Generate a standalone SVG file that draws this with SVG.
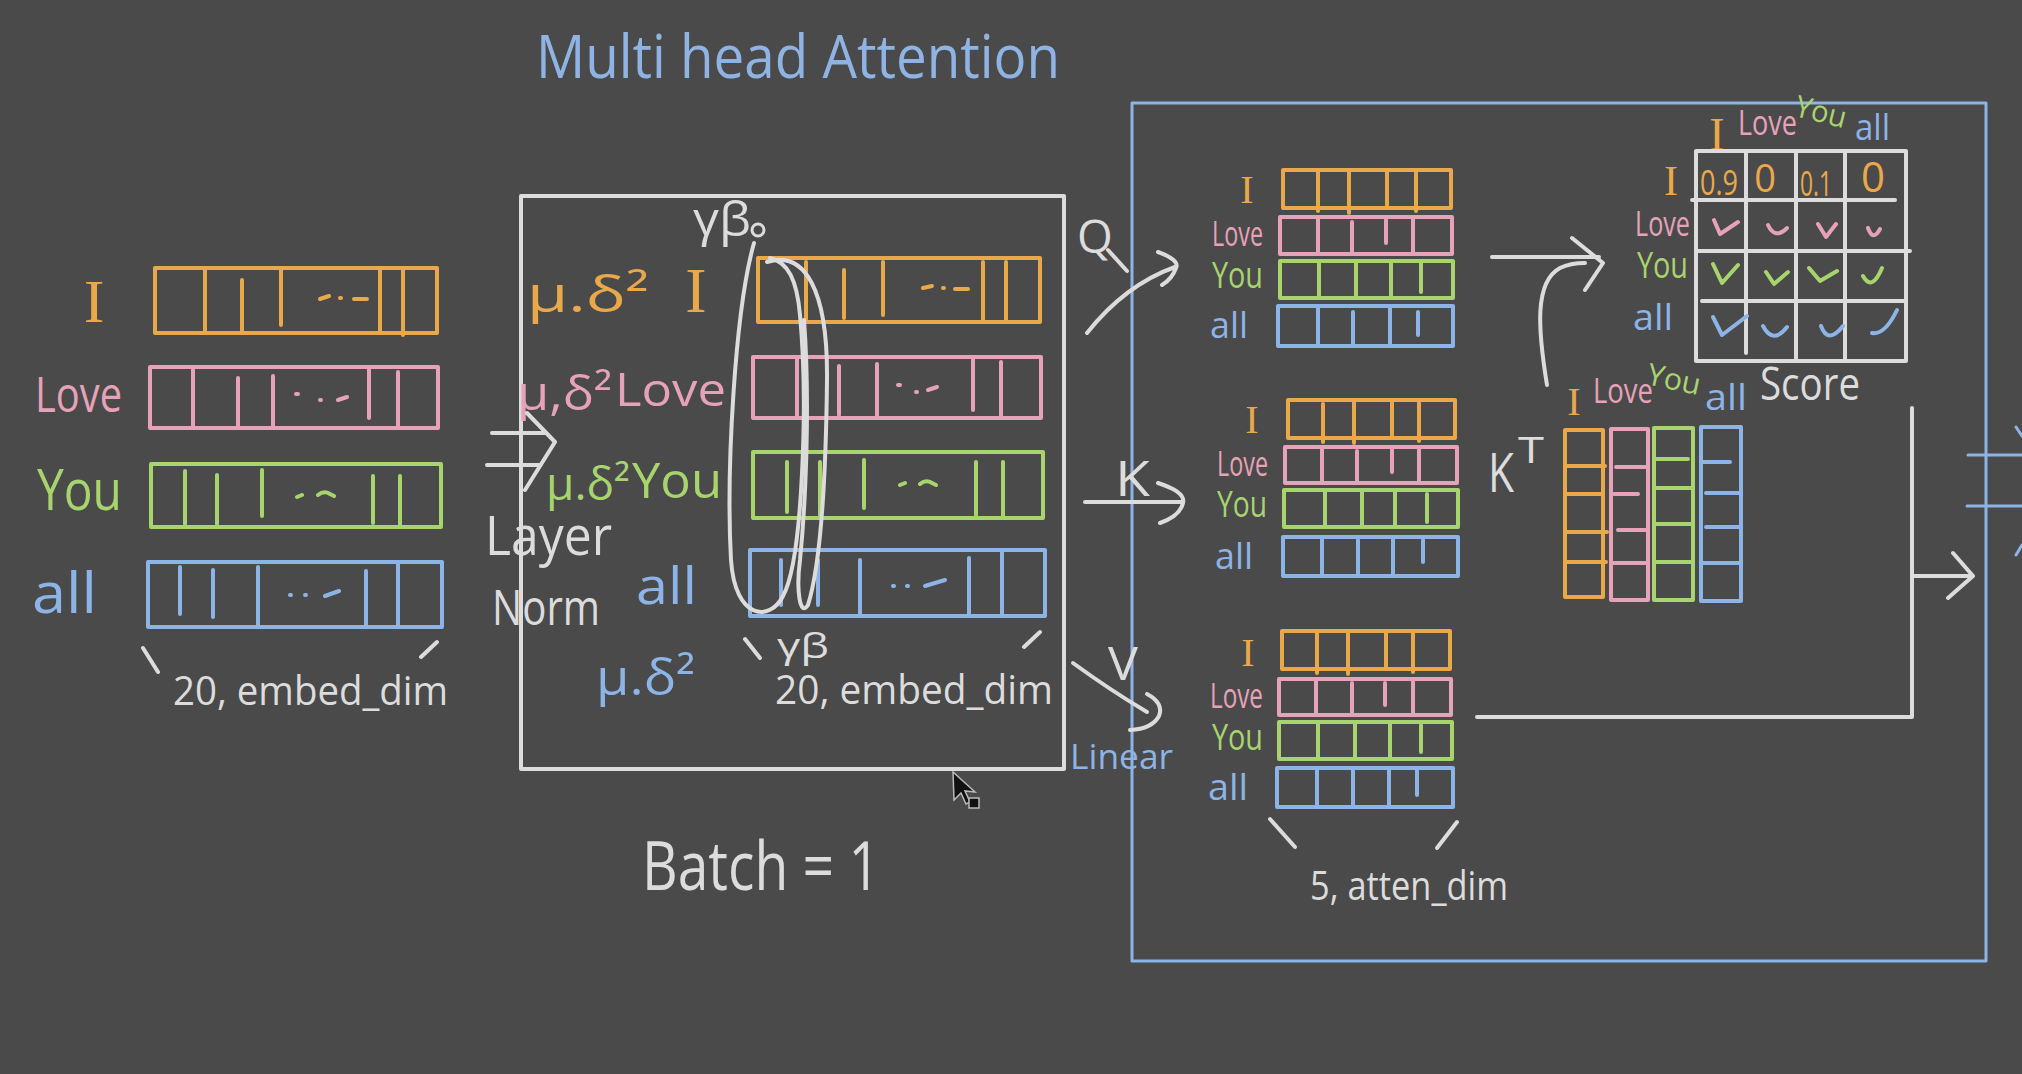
<svg xmlns="http://www.w3.org/2000/svg" width="2022" height="1074" viewBox="0 0 2022 1074">
<style>
.box{fill:none;stroke-width:4;stroke-linejoin:round}
.ln{fill:none;stroke-width:4;stroke-linecap:round;stroke-linejoin:round}
.o{stroke:#e9a94b}.p{stroke:#e6a2b8}.g{stroke:#a8d46e}.b{stroke:#8db4e6}.w{stroke:#dcdcdc}
.to{fill:#e9a94b}.tp{fill:#e6a2b8}.tg{fill:#a8d46e}.tb{fill:#8db4e6}.tw{fill:#dcdcdc}
text{font-family:"Open Sans","Liberation Sans",sans-serif}
.ser{font-family:"Liberation Serif",serif}
</style>
<rect width="2022" height="1074" fill="#4a4a4a"/>
<text x="536" y="78" font-size="60" fill="#8fb3e3" textLength="524" lengthAdjust="spacingAndGlyphs">Multi head Attention</text>

<g id="input-embeddings">
  <text class="ser to" x="94" y="322" font-size="62" text-anchor="middle">I</text>
  <text class="tp" x="35" y="412" font-size="50" textLength="87" lengthAdjust="spacingAndGlyphs">Love</text>
  <text class="tg" x="37" y="510" font-size="56" textLength="85" lengthAdjust="spacingAndGlyphs">You</text>
  <text class="tb" x="32" y="613" font-size="56" textLength="65" lengthAdjust="spacingAndGlyphs">all</text>
  <rect class="box o" x="155" y="268" width="282" height="65"/>
  <path class="ln o" d="M205,268V333M242,280V333M281,268V325M380,268V333M403,270V335M320,299l9,-3M340,298h1M354,299h13"/>
  <rect class="box p" x="150" y="367" width="288" height="61"/>
  <path class="ln p" d="M193,367V428M238,378V426M273,376V428M369,367V418M398,372V426M296,394h2M320,400h1M338,400l9,-3"/>
  <rect class="box g" x="151" y="464" width="290" height="63"/>
  <path class="ln g" d="M185,471V524M217,475V524M262,470V516M373,476V523M400,476V527M297,497l5,-2M318,495q6,-5 12,-1l4,2"/>
  <rect class="box b" x="148" y="562" width="294" height="65"/>
  <path class="ln b" d="M180,567V614M213,570V617M258,567V627M366,571V627M398,562V627M290,595h1M305,595h1M325,596l14,-5"/>
  <path class="ln w" d="M143,648L158,672M421,657L437,642"/>
  <text class="tw" x="173" y="705" font-size="40" textLength="275" lengthAdjust="spacingAndGlyphs">20, embed_dim</text>
</g>

<g id="layer-norm">
  <rect class="box w" x="521" y="196" width="543" height="573"/>
  <text class="tw" x="485" y="555" font-size="54" textLength="127" lengthAdjust="spacingAndGlyphs">Layer</text>
  <text class="tw" x="492" y="625" font-size="50" textLength="108" lengthAdjust="spacingAndGlyphs">Norm</text>
  <text class="tw" x="693" y="236" font-size="48" textLength="58" lengthAdjust="spacingAndGlyphs">γβ</text>
  <circle cx="758" cy="230" r="6" fill="none" stroke="#dcdcdc" stroke-width="3"/>
  <text class="to" x="527" y="312" font-size="50" textLength="122" lengthAdjust="spacingAndGlyphs">μ.δ²</text>
  <text class="ser to" x="696" y="312" font-size="64" text-anchor="middle">I</text>
  <text class="tp" x="517" y="410" font-size="48" textLength="95" lengthAdjust="spacingAndGlyphs">μ,δ²</text>
  <text class="tp" x="615" y="406" font-size="46" textLength="111" lengthAdjust="spacingAndGlyphs">Love</text>
  <text class="tg" x="546" y="500" font-size="46" textLength="84" lengthAdjust="spacingAndGlyphs">μ.δ²</text>
  <text class="tg" x="632" y="498" font-size="50" textLength="90" lengthAdjust="spacingAndGlyphs">You</text>
  <text class="tb" x="636" y="604" font-size="52" textLength="61" lengthAdjust="spacingAndGlyphs">all</text>
  <text class="tb" x="596" y="695" font-size="50" textLength="99" lengthAdjust="spacingAndGlyphs">μ.δ²</text>
  <rect class="box o" x="758" y="258" width="282" height="64"/>
  <path class="ln o" d="M806,262V322M844,270V318M883,262V315M983,262V322M1006,262V322M923,288l9,-2M943,288h1M955,289h13"/>
  <rect class="box p" x="753" y="357" width="288" height="61"/>
  <path class="ln p" d="M797,357V418M839,366V415M877,364V418M973,357V410M1001,362V418M898,385h2M916,392h1M928,390l9,-3"/>
  <rect class="box g" x="753" y="452" width="290" height="66"/>
  <path class="ln g" d="M787,462V512M820,462V518M864,460V508M976,462V515M1003,462V518M900,485l5,-2M920,484q6,-5 12,-1l4,2"/>
  <rect class="box b" x="750" y="550" width="295" height="66"/>
  <path class="ln b" d="M781,560V605M818,560V605M860,560V616M969,558V616M1002,550V616M893,586h1M907,586h1M925,586l20,-6"/>
  <path class="ln w" d="M754,243C735,310 726,470 731,560C735,620 770,622 783,596C803,560 808,400 800,315C797,280 788,262 770,258"/>
  <path class="ln w" d="M767,262C805,250 828,290 827,380C826,470 822,560 808,605C800,618 796,590 800,560C806,500 810,400 804,320"/>
  <path class="ln w" d="M745,639L760,658M1024,647L1040,632"/>
  <text class="tw" x="777" y="658" font-size="34" textLength="52" lengthAdjust="spacingAndGlyphs">γβ</text>
  <text class="tw" x="775" y="704" font-size="40" textLength="278" lengthAdjust="spacingAndGlyphs">20, embed_dim</text>
</g>

<g id="batch">
  <text class="tw" x="642" y="890" font-size="68" textLength="238" lengthAdjust="spacingAndGlyphs">Batch = 1</text>
  <path d="M953,772L954,800L961,793L966,804L970,802L965,791L975,792Z" fill="#111" stroke="#bbb" stroke-width="1.5"/>
  <rect x="969" y="798" width="10" height="10" fill="#111" stroke="#bbb" stroke-width="1.5"/>
</g>

<g id="attention-head">
  <rect class="box b" x="1132" y="103" width="854" height="858" style="stroke-width:3"/>
</g>

<g id="query">
  <text class="ser to" x="1247" y="203" font-size="40" text-anchor="middle">I</text>
  <text class="tp" x="1212" y="246" font-size="34" textLength="51" lengthAdjust="spacingAndGlyphs">Love</text>
  <text class="tg" x="1212" y="288" font-size="36" textLength="51" lengthAdjust="spacingAndGlyphs">You</text>
  <text class="tb" x="1210" y="338" font-size="36" textLength="38" lengthAdjust="spacingAndGlyphs">all</text>
  <rect class="box o" x="1283" y="170" width="168" height="38"/>
  <path class="ln o" d="M1318,170V211M1349,170V213M1387,170V208M1416,170V211"/>
  <rect class="box p" x="1280" y="217" width="172" height="37"/>
  <path class="ln p" d="M1318,217V254M1352,222V254M1386,220V243M1413,217V254"/>
  <rect class="box g" x="1280" y="261" width="173" height="37"/>
  <path class="ln g" d="M1319,261V298M1356,261V298M1391,261V298M1421,261V292"/>
  <rect class="box b" x="1278" y="306" width="175" height="40"/>
  <path class="ln b" d="M1318,306V346M1353,312V346M1390,306V346M1418,312V335"/>
</g>

<g id="key">
  <text class="ser to" x="1252" y="433" font-size="40" text-anchor="middle">I</text>
  <text class="tp" x="1217" y="476" font-size="34" textLength="51" lengthAdjust="spacingAndGlyphs">Love</text>
  <text class="tg" x="1217" y="517" font-size="36" textLength="50" lengthAdjust="spacingAndGlyphs">You</text>
  <text class="tb" x="1215" y="569" font-size="36" textLength="38" lengthAdjust="spacingAndGlyphs">all</text>
  <rect class="box o" x="1288" y="400" width="167" height="38"/>
  <path class="ln o" d="M1323,404V442M1354,400V443M1392,400V438M1419,400V441"/>
  <rect class="box p" x="1285" y="447" width="172" height="36"/>
  <path class="ln p" d="M1322,447V483M1357,451V483M1392,447V472M1419,447V483"/>
  <rect class="box g" x="1284" y="490" width="174" height="37"/>
  <path class="ln g" d="M1325,490V527M1362,490V527M1395,490V527M1427,494V522"/>
  <rect class="box b" x="1283" y="537" width="175" height="39"/>
  <path class="ln b" d="M1322,537V576M1358,540V576M1393,537V576M1423,540V562"/>
</g>

<g id="value">
  <text class="ser to" x="1248" y="666" font-size="40" text-anchor="middle">I</text>
  <text class="tp" x="1210" y="708" font-size="34" textLength="53" lengthAdjust="spacingAndGlyphs">Love</text>
  <text class="tg" x="1212" y="750" font-size="36" textLength="51" lengthAdjust="spacingAndGlyphs">You</text>
  <text class="tb" x="1208" y="800" font-size="36" textLength="40" lengthAdjust="spacingAndGlyphs">all</text>
  <rect class="box o" x="1282" y="631" width="168" height="38"/>
  <path class="ln o" d="M1317,631V673M1348,631V674M1386,631V669M1413,631V672"/>
  <rect class="box p" x="1279" y="679" width="172" height="36"/>
  <path class="ln p" d="M1316,679V715M1352,683V715M1385,683V705M1413,679V715"/>
  <rect class="box g" x="1279" y="722" width="173" height="37"/>
  <path class="ln g" d="M1318,722V759M1355,722V759M1390,722V759M1421,725V752"/>
  <rect class="box b" x="1277" y="768" width="176" height="39"/>
  <path class="ln b" d="M1317,768V807M1353,770V807M1389,768V807M1417,770V795"/>
  <path class="ln w" d="M1270,819L1295,847M1437,848L1457,822"/>
  <text class="tw" x="1310" y="900" font-size="40" textLength="198" lengthAdjust="spacingAndGlyphs">5, atten_dim</text>
</g>

<g id="key-transposed">
  <text class="tw" x="1488" y="492" font-size="54" textLength="26" lengthAdjust="spacingAndGlyphs">K</text>
  <text class="tw" x="1518" y="463" font-size="36" textLength="26" lengthAdjust="spacingAndGlyphs">T</text>
  <text class="ser to" x="1574" y="415" font-size="40" text-anchor="middle">I</text>
  <text class="tp" x="1593" y="403" font-size="34" textLength="60" lengthAdjust="spacingAndGlyphs">Love</text>
  <text class="tg" x="1647" y="390" font-size="30" textLength="54" lengthAdjust="spacingAndGlyphs" transform="rotate(12 1675 380)">You</text>
  <text class="tb" x="1705" y="410" font-size="36" textLength="42" lengthAdjust="spacingAndGlyphs">all</text>
  <rect class="box o" x="1565" y="430" width="38" height="167"/>
  <path class="ln o" d="M1565,466H1605M1565,494H1603M1565,532H1607M1565,562H1606"/>
  <rect class="box p" x="1611" y="429" width="37" height="171"/>
  <path class="ln p" d="M1616,467H1648M1614,494H1638M1618,530H1648M1611,563H1648"/>
  <rect class="box g" x="1654" y="428" width="39" height="172"/>
  <path class="ln g" d="M1654,459H1688M1654,488H1693M1654,524H1693M1654,562H1693"/>
  <rect class="box b" x="1701" y="427" width="40" height="174"/>
  <path class="ln b" d="M1703,462H1730M1706,493H1741M1706,527H1741M1701,563H1741"/>
</g>

<g id="score">
  <text class="tw" x="1760" y="400" font-size="46" textLength="100" lengthAdjust="spacingAndGlyphs">Score</text>
  <text class="ser to" x="1717" y="150" font-size="46" text-anchor="middle">I</text>
  <text class="tp" x="1738" y="135" font-size="34" textLength="59" lengthAdjust="spacingAndGlyphs">Love</text>
  <text class="tg" x="1795" y="122" font-size="30" textLength="52" lengthAdjust="spacingAndGlyphs" transform="rotate(14 1820 112)">You</text>
  <text class="tb" x="1855" y="140" font-size="36" textLength="35" lengthAdjust="spacingAndGlyphs">all</text>
  <text class="ser to" x="1671" y="195" font-size="42" text-anchor="middle">I</text>
  <text class="tp" x="1635" y="236" font-size="34" textLength="55" lengthAdjust="spacingAndGlyphs">Love</text>
  <text class="tg" x="1637" y="278" font-size="36" textLength="51" lengthAdjust="spacingAndGlyphs">You</text>
  <text class="tb" x="1633" y="330" font-size="36" textLength="40" lengthAdjust="spacingAndGlyphs">all</text>
  <rect class="box w" x="1696" y="151" width="210" height="210"/>
  <path class="ln w" d="M1746,151V353M1796,151V361M1845,151V361M1692,200H1895M1696,251H1910M1702,301H1906"/>
  <text class="to" x="1700" y="195" font-size="34" textLength="38" lengthAdjust="spacingAndGlyphs">0.9</text>
  <text class="to" x="1765" y="192" font-size="38" text-anchor="middle">0</text>
  <text class="to" x="1800" y="196" font-size="34" textLength="32" lengthAdjust="spacingAndGlyphs">0.1</text>
  <text class="to" x="1873" y="192" font-size="42" text-anchor="middle">0</text>
  <path class="ln p" d="M1714,220L1720,234L1738,222M1768,225Q1775,240 1787,228M1818,224L1826,237L1836,224M1868,228Q1873,242 1880,229"/>
  <path class="ln g" d="M1713,264L1722,283L1738,265M1766,272L1774,284L1788,272M1809,268L1820,281L1837,271M1863,276Q1872,292 1882,268"/>
  <path class="ln b" d="M1713,317L1722,335L1747,316M1763,326Q1773,345 1787,327M1821,326Q1828,345 1843,326M1872,333Q1885,335 1897,310"/>
</g>

<g id="connectors">
  <path class="ln w" d="M492,433H545M487,465H540M527,413L555,442L525,490"/>
  <text class="tw" x="1077" y="253" font-size="46">Q</text>
  <path class="ln w" d="M1108,250L1127,271"/>
  <path class="ln w" d="M1087,333Q1125,285 1175,267M1158,252Q1180,260 1176,268Q1172,279 1162,285"/>
  <text class="tw" x="1115" y="496" font-size="50" textLength="35" lengthAdjust="spacingAndGlyphs">K</text>
  <path class="ln w" d="M1085,502H1183M1158,483Q1186,492 1183,503Q1180,516 1160,523"/>
  <text class="tw" x="1108" y="680" font-size="46" textLength="30" lengthAdjust="spacingAndGlyphs">V</text>
  <path class="ln w" d="M1073,663Q1110,690 1147,712M1147,694Q1164,703 1159,716Q1152,729 1130,730"/>
  <text class="tb" x="1070" y="769" font-size="34" textLength="103" lengthAdjust="spacingAndGlyphs">Linear</text>
  <path class="ln w" d="M1492,257H1599M1572,238L1603,263L1585,290"/>
  <path class="ln w" d="M1547,385C1538,330 1534,282 1560,268Q1570,263 1585,263"/>
  <path class="ln w" d="M1477,717H1912V408M1912,576H1973M1953,553L1973,576L1948,598"/>
  <path class="ln b" d="M1968,455H2022M1967,506H2022M2016,427L2022,436M2016,555L2022,545" style="stroke-width:3"/>
</g>
</svg>
